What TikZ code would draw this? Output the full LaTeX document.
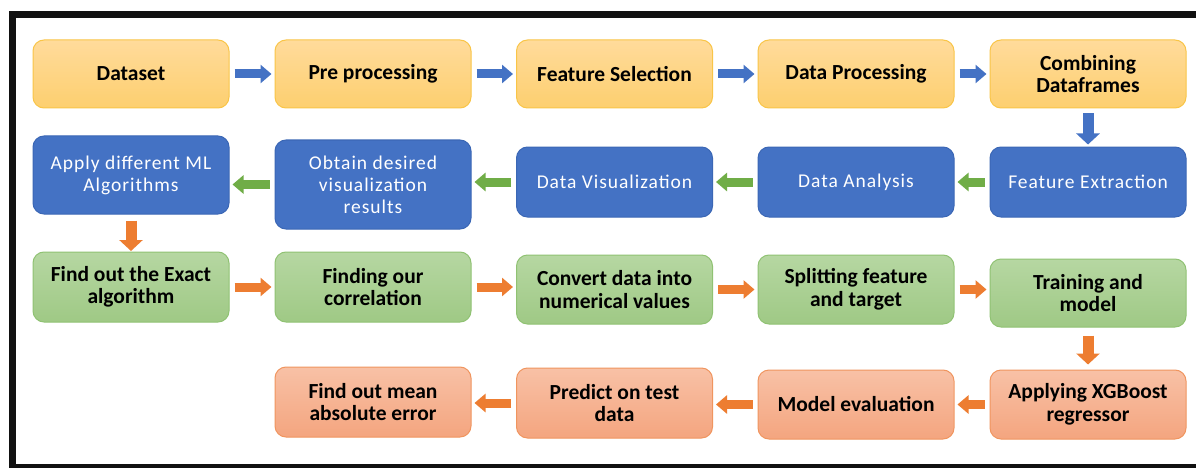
\documentclass[tikz,border=0pt]{standalone}
\usepackage{fontspec}
\setmainfont{Carlito}
\newfontfamily\bluefont[LetterSpace=5]{Carlito}
\usetikzlibrary{arrows.meta}

\definecolor{yTop}{HTML}{FFDB9B}
\definecolor{yBot}{HTML}{FDCF6F}
\definecolor{yBd}{HTML}{F9C548}
\definecolor{bFill}{HTML}{4472C4}
\definecolor{bBd}{HTML}{3B67B5}
\definecolor{gTop}{HTML}{B6D7A2}
\definecolor{gBot}{HTML}{9FC985}
\definecolor{gBd}{HTML}{90C273}
\definecolor{oTop}{HTML}{F8C1A6}
\definecolor{oBot}{HTML}{F4A57F}
\definecolor{oBd}{HTML}{F0955F}
\definecolor{arB}{HTML}{4472C4}
\definecolor{arG}{HTML}{70AD47}
\definecolor{arO}{HTML}{ED7D31}
\definecolor{frameC}{HTML}{111111}

\tikzset{
  box/.style={rounded corners=11pt, minimum width=196pt, minimum height=68pt,
    align=center, inner sep=2pt, line width=1pt},
  ybox/.style={box, draw=yBd, top color=yTop, bottom color=yBot,
    font=\fontsize{21.5}{22.5}\selectfont\bfseries},
  bbox/.style={box, draw=bBd, fill=bFill, text=white,
    font=\bluefont\fontsize{19.5}{22}\selectfont},
  gbox/.style={box, draw=gBd, top color=gTop, bottom color=gBot,
    font=\fontsize{21.5}{22.5}\selectfont\bfseries},
  obox/.style={box, draw=oBd, top color=oTop, bottom color=oBot,
    font=\fontsize{21.5}{22.5}\selectfont\bfseries},
  blockarrow/.style={line width=9pt, -{Triangle[length=11pt,width=18pt]},
    shorten <=5pt, shorten >=3pt},
  downarrow/.style={line width=11pt, -{Triangle[length=11pt,width=23pt]}},
  barrow/.style={blockarrow, draw=arB},
  garrow/.style={blockarrow, draw=arG},
  oarrow/.style={blockarrow, draw=arO},
}

\begin{document}
\begin{tikzpicture}[x=1pt,y=-1pt]
\useasboundingbox (0,0) rectangle (1196,468);
\fill[white] (0,0) rectangle (1196,468);
% frame
\fill[frameC] (9,11) rectangle (1196,18);
\fill[frameC] (9,11) rectangle (16,468);
\fill[frameC] (9,464) rectangle (1196,468);

% row 1
\node[ybox] (ds) at (131,74) {Dataset};
\node[ybox] (pp) at (373,74) {Pre processing};
\node[ybox] (fs) at (614.5,74) {Feature Selection};
\node[ybox] (dp) at (856,74) {Data Processing};
\node[ybox] (cb) at (1088,74) {Combining\\Dataframes};

% row 2
\node[bbox, minimum height=78pt] (ap) at (131,175) {Apply different ML\\Algorithms};
\node[bbox, minimum height=89pt] (ob) at (373,184.5) {Obtain desired\\visualization\\results};
\node[bbox, minimum height=70pt] (dv) at (614.5,182) {Data Visualization};
\node[bbox, minimum height=70pt] (da) at (856,182) {Data Analysis};
\node[bbox, minimum height=70pt] (fe) at (1088,182) {Feature Extraction};

% row 3
\node[gbox, minimum height=70pt] (ex) at (131,287) {Find out the Exact\\algorithm};
\node[gbox, minimum height=70pt] (co) at (373,287) {Finding our\\correlation};
\node[gbox, minimum height=69pt] (cv) at (614.5,289.5) {Convert data into\\numerical values};
\node[gbox, minimum height=69pt] (sp) at (856,289.5) {Splitting feature\\and target};
\node[gbox, minimum height=68pt] (tr) at (1088,293) {Training and\\model};

% row 4
\node[obox, minimum height=70pt] (mn) at (373,402) {Find out mean\\absolute error};
\node[obox, minimum height=70pt] (pr) at (614.5,403) {Predict on test\\data};
\node[obox, minimum height=69pt] (me) at (856,404.5) {Model evaluation};
\node[obox, minimum height=69pt] (xg) at (1088,404.5) {Applying XGBoost\\regressor};

% arrows row 1
\draw[barrow] (ds.east) -- (pp.west);
\draw[barrow] (pp.east) -- (fs.west);
\draw[barrow] (fs.east) -- (dp.west);
\draw[barrow] (dp.east) -- (cb.west);
\draw[downarrow, draw=arB, shorten <=5pt, shorten >=2pt] (cb.south) -- (fe.north);

% arrows row 2
\draw[garrow] (fe.west) -- (fe.west -| da.east);
\draw[garrow] (da.west) -- (da.west -| dv.east);
\draw[garrow] (dv.west) -- (dv.west -| ob.east);
\draw[garrow] (ob.west) -- (ob.west -| ap.east);
\draw[downarrow, draw=arO, shorten <=6pt, shorten >=0.5pt] (ap.south) -- (ex.north);

% arrows row 3
\draw[oarrow] (ex.east) -- (ex.east -| co.west);
\draw[oarrow] (co.east) -- (co.east -| cv.west);
\draw[oarrow] (cv.east) -- (cv.east -| sp.west);
\draw[oarrow] (sp.east) -- (sp.east -| tr.west);
\draw[downarrow, draw=arO, shorten <=8pt, shorten >=5pt] (tr.south) -- (xg.north);

% arrows row 4
\draw[oarrow] (xg.west) -- (xg.west -| me.east);
\draw[oarrow] (me.west) -- (me.west -| pr.east);
\draw[oarrow] (pr.west) -- (pr.west -| mn.east);
\end{tikzpicture}
\end{document}
